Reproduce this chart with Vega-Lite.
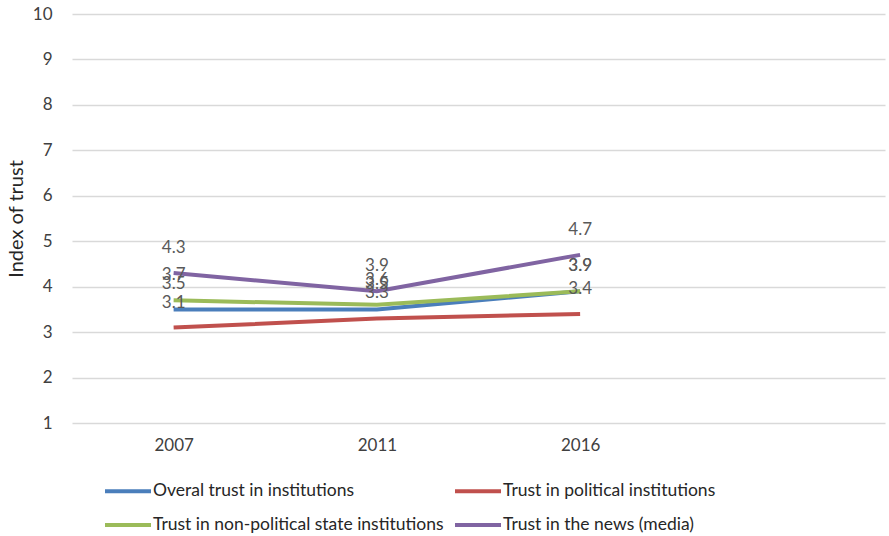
{
  "$schema": "https://vega.github.io/schema/vega-lite/v6.json",
  "width": 813,
  "height": 409,
  "autosize": {"type": "none"},
  "padding": {"left": 72, "top": 14, "right": 4, "bottom": 113},
  "background": "white",
  "config": {
    "view": {"stroke": null},
    "font": "Lato",
    "axis": {"labelFont": "Lato", "titleFont": "Lato"}
  },
  "data": {
    "values": [
      {"year": "2007", "series": "Overal trust in institutions", "value": 3.5},
      {"year": "2011", "series": "Overal trust in institutions", "value": 3.5},
      {"year": "2016", "series": "Overal trust in institutions", "value": 3.9},
      {"year": "2007", "series": "Trust in political institutions", "value": 3.1},
      {"year": "2011", "series": "Trust in political institutions", "value": 3.3},
      {"year": "2016", "series": "Trust in political institutions", "value": 3.4},
      {"year": "2007", "series": "Trust in non-political state institutions", "value": 3.7},
      {"year": "2011", "series": "Trust in non-political state institutions", "value": 3.6},
      {"year": "2016", "series": "Trust in non-political state institutions", "value": 3.9},
      {"year": "2007", "series": "Trust in the news (media)", "value": 4.3},
      {"year": "2011", "series": "Trust in the news (media)", "value": 3.9},
      {"year": "2016", "series": "Trust in the news (media)", "value": 4.7}
    ]
  },
  "encoding": {
    "x": {
      "field": "year", "type": "ordinal",
      "scale": {"type": "point", "domain": ["2007", "2011", "2016", "x"], "padding": 0.5},
      "axis": {
        "title": null, "domain": false, "ticks": false, "grid": false,
        "labelAngle": 0, "labelFontSize": 17, "labelColor": "#404040",
        "labelPadding": 14,
        "labelExpr": "datum.value == 'x' ? '' : datum.value"
      }
    },
    "y": {
      "field": "value", "type": "quantitative",
      "scale": {"domain": [1, 10], "nice": false, "zero": false},
      "axis": {
        "title": "Index of trust", "titleFontSize": 20, "titleFontWeight": "normal",
        "titleColor": "#262626", "titlePadding": 6,
        "values": [1, 2, 3, 4, 5, 6, 7, 8, 9, 10],
        "domain": false, "ticks": false,
        "gridColor": "#d9d9d9", "gridWidth": 1.3,
        "labelFontSize": 17, "labelColor": "#404040", "labelPadding": 20
      }
    },
    "color": {
      "field": "series", "type": "nominal",
      "scale": {
        "domain": ["Overal trust in institutions", "Trust in political institutions", "Trust in non-political state institutions", "Trust in the news (media)"],
        "range": ["#4a7ebb", "#c0504d", "#9bbb59", "#8064a2"]
      },
      "legend": {
        "title": null, "orient": "none", "legendX": 31, "legendY": 452,
        "direction": "horizontal", "columns": 2,
        "symbolType": "stroke", "symbolSize": 2116, "symbolStrokeWidth": 4,
        "labelFontSize": 17.5, "labelColor": "#262626", "labelOffset": 0, "labelLimit": 500,
        "columnPadding": 3, "rowPadding": -12
      }
    }
  },
  "layer": [
    {"mark": {"type": "line", "strokeWidth": 4}},
    {
      "mark": {"type": "text", "dy": -25, "fontSize": 17, "color": "#595959"},
      "encoding": {"text": {"field": "value", "type": "quantitative", "format": ".1f"}, "color": {"value": "#595959"}}
    }
  ]
}
